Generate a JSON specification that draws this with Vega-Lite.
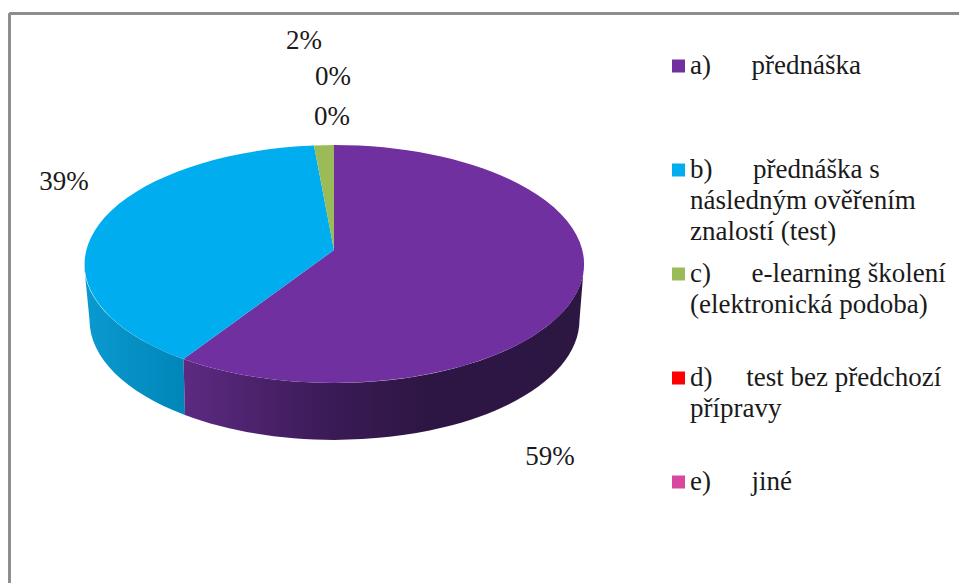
{
"$schema":"https://vega.github.io/schema/vega-lite/v6.json",
"width":950,"height":570,"autosize":"none","padding":{"left":9.5,"top":13.5,"right":0,"bottom":0},
"background":"white",
"config":{"view":{"stroke":null},"text":{"font":"'Liberation Serif', 'LiberationSerif', 'Noto Serif', 'Tinos', 'Nimbus Roman', 'FreeSerif', serif","fontSize":27,"color":"#1a1a1a","align":"center","baseline":"middle"}},
"datasets":{"shares":[
{"category":"a)\u00a0\u00a0\u00a0\u00a0\u00a0\u00a0přednáška","share":0.59},
{"category":"b)\u00a0\u00a0\u00a0\u00a0\u00a0\u00a0přednáška s\nnásledným ověřením\nznalostí (test)","share":0.39},
{"category":"c)\u00a0\u00a0\u00a0\u00a0\u00a0\u00a0e-learning školení\n(elektronická podoba)","share":0.02},
{"category":"d)\u00a0\u00a0\u00a0\u00a0\u00a0test bez předchozí\npřípravy","share":0},
{"category":"e)\u00a0\u00a0\u00a0\u00a0\u00a0\u00a0jiné","share":0}
]},
"data":{"name":"shares"},
"resolve":{"scale":{"shape":"independent"}},
"layer":[
{"mark":{"type":"rule","stroke":"#8c8c8c","strokeWidth":2},"encoding":{"x":{"datum":9.5,"type":"quantitative","scale":{"domain":[9.5,959.5]},"axis":null}}},
{"mark":{"type":"rule","stroke":"#8c8c8c","strokeWidth":2},"encoding":{"y":{"datum":13.5,"type":"quantitative","scale":{"domain":[13.5,583.5],"reverse":true},"axis":null}}},
{"transform":[{"filter":"datum.share == 0.39"}],
 "mark":{"type":"point","filled":true,"opacity":1,"size":4,"strokeWidth":0,
 "shape":"M-150.5,109 L-149,165 A245,120 0 0 1 -244.5,70 L-250,14 A250,119 0 0 0 -150.5,109 Z",
 "fill":{"gradient":"linear","x1":0,"y1":0,"x2":1,"y2":0,"stops":[{"offset":0,"color":"#0a9ad0"},{"offset":1,"color":"#0086b8"}]}},
 "encoding":{"x":{"datum":334,"type":"quantitative","scale":{"domain":[9.5,959.5]},"axis":null},"y":{"datum":250,"type":"quantitative","scale":{"domain":[13.5,583.5],"reverse":true},"axis":null}}},
{"transform":[{"filter":"datum.share == 0.59"}],
 "mark":{"type":"point","filled":true,"opacity":1,"size":4,"strokeWidth":0,
 "shape":"M-150.5,109 A250,119 0 0 0 250,14 L245.5,70 A245,120 0 0 1 -149,165 Z",
 "fill":{"gradient":"linear","x1":0,"y1":0,"x2":1,"y2":0,"stops":[{"offset":0,"color":"#5c2a82"},{"offset":0.35,"color":"#3c1b58"},{"offset":0.6,"color":"#2d1644"},{"offset":1,"color":"#2c1642"}]}},
 "encoding":{"x":{"datum":334,"type":"quantitative","scale":{"domain":[9.5,959.5]},"axis":null},"y":{"datum":250,"type":"quantitative","scale":{"domain":[13.5,583.5],"reverse":true},"axis":null}}},
{"mark":{"type":"point","filled":true,"opacity":1,"size":4,"strokeWidth":0},
 "encoding":{
 "x":{"datum":334,"type":"quantitative","scale":{"domain":[9.5,959.5]},"axis":null},
 "y":{"datum":250,"type":"quantitative","scale":{"domain":[13.5,583.5],"reverse":true},"axis":null},
 "shape":{"field":"category","type":"nominal","sort":null,"legend":null,"scale":{"range":["M0,0 L0,-105 A250,119 0 1 1 -150.5,109 Z","M0,0 L-150.5,109 A250,119 0 0 1 -20,-104.4 Z","M0,0 L-20,-104.4 A250,119 0 0 1 0,-105 Z","M0,0 L0,0 Z","M0,0 L0,0 Z"]}},
 "color":{"field":"category","type":"nominal","sort":null,"scale":{"range":["#7030a0","#00aeef","#9bbb59","#ff0000","#d9479f"]},
  "legend":{"title":null,"orient":"none","legendX":655.5,"legendY":39,"symbolType":"square","symbolSize":169,"symbolStrokeWidth":0,"labelFont":"'Liberation Serif', 'LiberationSerif', 'Noto Serif', 'Tinos', 'Nimbus Roman', 'FreeSerif', serif","labelFontSize":27,"labelColor":"#1a1a1a","labelLimit":400,"labelOffset":-2,"labelBaseline":"top","gridAlign":"all","rowPadding":14,"padding":0,
   "labelExpr":"split(datum.label,'\\n')",
   "encoding":{"labels":{"lineHeight":{"value":31},"dy":{"value":-13}}}}}}},
{"transform":[{"filter":"datum.share == 0.59"}],"mark":"text","encoding":{"text":{"field":"share","format":".0%"},"x":{"datum":550,"type":"quantitative","scale":{"domain":[9.5,959.5]},"axis":null},"y":{"datum":457,"type":"quantitative","scale":{"domain":[13.5,583.5],"reverse":true},"axis":null}}},
{"transform":[{"filter":"datum.share == 0.39"}],"mark":"text","encoding":{"text":{"field":"share","format":".0%"},"x":{"datum":64,"type":"quantitative","scale":{"domain":[9.5,959.5]},"axis":null},"y":{"datum":182,"type":"quantitative","scale":{"domain":[13.5,583.5],"reverse":true},"axis":null}}},
{"transform":[{"filter":"datum.share == 0.02"}],"mark":"text","encoding":{"text":{"field":"share","format":".0%"},"x":{"datum":304,"type":"quantitative","scale":{"domain":[9.5,959.5]},"axis":null},"y":{"datum":41,"type":"quantitative","scale":{"domain":[13.5,583.5],"reverse":true},"axis":null}}},
{"transform":[{"filter":"indexof(datum.category,'d)') == 0"}],"mark":"text","encoding":{"text":{"field":"share","format":".0%"},"x":{"datum":332,"type":"quantitative","scale":{"domain":[9.5,959.5]},"axis":null},"y":{"datum":117,"type":"quantitative","scale":{"domain":[13.5,583.5],"reverse":true},"axis":null}}},
{"transform":[{"filter":"indexof(datum.category,'e)') == 0"}],"mark":"text","encoding":{"text":{"field":"share","format":".0%"},"x":{"datum":333,"type":"quantitative","scale":{"domain":[9.5,959.5]},"axis":null},"y":{"datum":77,"type":"quantitative","scale":{"domain":[13.5,583.5],"reverse":true},"axis":null}}}
]
}
